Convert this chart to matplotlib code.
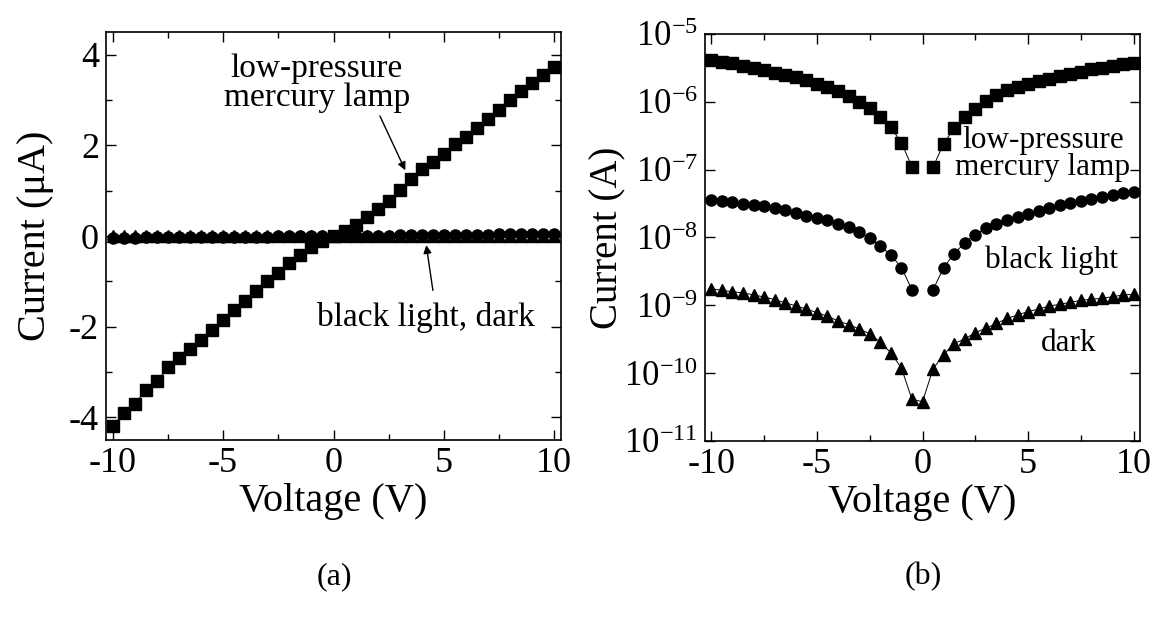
import numpy as np
import matplotlib.pyplot as plt

plt.rcParams['font.family'] = ['Liberation Serif', 'DejaVu Serif']
plt.rcParams['mathtext.fontset'] = 'custom'
plt.rcParams['mathtext.rm'] = 'Liberation Serif'
plt.rcParams['mathtext.it'] = 'Liberation Serif:italic'
plt.rcParams['axes.unicode_minus'] = False

# bias voltage (V), 0.5 V steps
voltage = np.arange(-10, 10.01, 0.5)

# current (A) under the low-pressure mercury lamp
i_lamp = np.array([
    -4.2e-6, -3.9e-6, -3.7e-6, -3.4e-6, -3.2e-6, -2.9e-6, -2.7e-6, -2.5e-6,
    -2.3e-6, -2.07e-6, -1.86e-6, -1.64e-6, -1.43e-6, -1.22e-6, -1.0e-6,
    -8.1e-7, -6.0e-7, -4.2e-7, -2.5e-7, -1.1e-7,
    0.0,
    1.1e-7, 2.4e-7, 4.1e-7, 6.0e-7, 7.8e-7, 1.02e-6, 1.26e-6, 1.47e-6,
    1.64e-6, 1.82e-6, 2.03e-6, 2.19e-6, 2.38e-6, 2.59e-6, 2.79e-6, 3.0e-6,
    3.2e-6, 3.38e-6, 3.56e-6, 3.72e-6])

# current (A) under the black light
i_black = np.array([
    -3.6e-8, -3.4e-8, -3.3e-8, -3.15e-8, -3.05e-8, -2.9e-8, -2.7e-8, -2.5e-8,
    -2.3e-8, -2.1e-8, -1.95e-8, -1.8e-8, -1.6e-8, -1.42e-8, -1.2e-8,
    -9.7e-9, -7.5e-9, -5.5e-9, -3.6e-9, -1.7e-9,
    0.0,
    1.7e-9, 3.6e-9, 5.8e-9, 8.3e-9, 1.1e-8, 1.37e-8, 1.6e-8, 1.79e-8,
    1.99e-8, 2.2e-8, 2.45e-8, 2.73e-8, 2.97e-8, 3.2e-8, 3.45e-8, 3.68e-8,
    3.96e-8, 4.18e-8, 4.45e-8, 4.7e-8])

# dark current (A)
i_dark = np.array([
    -1.74e-9, -1.67e-9, -1.58e-9, -1.53e-9, -1.42e-9, -1.33e-9, -1.21e-9,
    -1.09e-9, -9.8e-10, -8.8e-10, -7.8e-10, -6.9e-10, -5.9e-10, -5.2e-10,
    -4.5e-10, -3.8e-10, -2.85e-10, -2.0e-10, -1.19e-10, -4.1e-11,
    -3.8e-11,
    1.16e-10, 1.88e-10, 2.73e-10, 3.2e-10, 3.95e-10, 4.6e-10, 5.4e-10,
    6.4e-10, 7.2e-10, 8.1e-10, 8.8e-10, 9.8e-10, 1.03e-9, 1.11e-9, 1.18e-9,
    1.23e-9, 1.27e-9, 1.34e-9, 1.42e-9, 1.45e-9])

fig = plt.figure(figsize=(11.51, 6.19), dpi=100)
ax1 = fig.add_axes([0.0921, 0.2892, 0.3953, 0.659])
ax2 = fig.add_axes([0.6125, 0.2876, 0.378, 0.6575])

line_kw = dict(color='black', lw=0.7)

# (a) linear scale, uA
ax1.plot(voltage, i_black * 1e6, marker='o', ms=8, **line_kw)
ax1.plot(voltage, i_dark * 1e6, marker='^', ms=9, **line_kw)
ax1.plot(voltage, i_lamp * 1e6, marker='s', ms=8, **line_kw)
ax1.set_xlim(-10.3, 10.3)
ax1.set_ylim(-4.5, 4.5)
ax1.set_xticks([-10, -5, 0, 5, 10])
ax1.set_xticks(np.arange(-7.5, 10, 5), minor=True)
ax1.set_yticks([-4, -2, 0, 2, 4])
ax1.set_yticks([-3, -1, 1, 3], minor=True)
ax1.set_xlabel('Voltage (V)', fontsize=29, labelpad=2)
ax1.set_ylabel('Current (μA)', fontsize=29, labelpad=11)

ax1.text(-0.75, 3.37, 'low-pressure\nmercury lamp', fontsize=24,
         ha='center', va='center', linespacing=0.9)
ax1.annotate('', xy=(3.25, 1.45), xytext=(2.1, 2.65),
             arrowprops=dict(arrowstyle='-|>', color='black', lw=1,
                             mutation_scale=12, shrinkA=0, shrinkB=0))
ax1.text(4.2, -1.8, 'black light, dark', fontsize=24, ha='center', va='center')
ax1.annotate('', xy=(4.2, -0.2), xytext=(4.5, -1.2),
             arrowprops=dict(arrowstyle='-|>', color='black', lw=1,
                             mutation_scale=12, shrinkA=0, shrinkB=0))

# (b) log scale, |I|
ax2.set_yscale('log', nonpositive='mask')
ax2.plot(voltage, np.abs(i_lamp), marker='s', ms=8, **line_kw)
ax2.plot(voltage, np.abs(i_black), marker='o', ms=8, **line_kw)
ax2.plot(voltage, np.abs(i_dark), marker='^', ms=9, **line_kw)
ax2.set_xlim(-10.3, 10.3)
ax2.set_ylim(1e-11, 1e-5)
ax2.set_xticks([-10, -5, 0, 5, 10])
ax2.set_xticks(np.arange(-7.5, 10, 5), minor=True)
ax2.set_yticks([10.0 ** k for k in range(-11, -4)])
ax2.set_yticklabels(['$10^{%d}$' % k for k in range(-11, -4)])
ax2.set_xlabel('Voltage (V)', fontsize=29, labelpad=2)
ax2.set_ylabel('Current (A)', fontsize=28, labelpad=-2)

ax2.text(5.7, 1.7e-7, 'low-pressure\nmercury lamp', fontsize=22.5,
         ha='center', va='center', linespacing=0.9)
ax2.text(6.13, 4.6e-9, 'black light', fontsize=22.5, ha='center', va='center')
ax2.text(6.94, 2.75e-10, 'dark', fontsize=22.5, ha='center', va='center')

for ax in (ax1, ax2):
    ax.tick_params(which='both', direction='in', top=True, right=True,
                   labelsize=26, width=1, pad=5)
    ax.tick_params(which='major', length=7.5)
    ax.tick_params(which='minor', length=4)
    for s in ax.spines.values():
        s.set_linewidth(1.2)
ax2.tick_params(axis='y', labelsize=25)

fig.text(0.2905, 0.068, '(a)', fontsize=23, ha='center', va='center')
fig.text(0.8025, 0.068, '(b)', fontsize=23, ha='center', va='center')

plt.savefig('out.png', dpi=100)
